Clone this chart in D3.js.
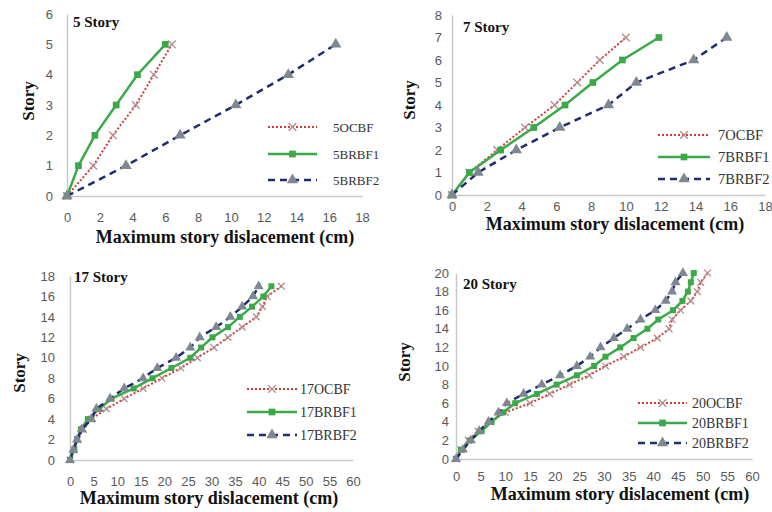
<!DOCTYPE html>
<html>
<head>
<meta charset="utf-8">
<script src="https://cdn.jsdelivr.net/npm/d3@7"></script>
<style>
  body { margin: 0; background: #fff; }
  .tick text { font-family: "Liberation Sans", Arial, sans-serif; font-size: 13px; fill: #595959; }
</style>
</head>
<body>
<div id="chart"></div>
<script>
// ---- data (story levels vs max displacement, cm) ----
const stories5 = [0, 1, 2, 3, 4, 5];
const ocbf5 = [0, 1.6, 2.8, 4.2, 5.3, 6.4];
const brbf1_5 = [0, 0.7, 1.7, 3.0, 4.3, 6.0];
const brbf2_5 = [0, 3.6, 6.9, 10.3, 13.5, 16.4];

const stories7 = [0, 1, 2, 3, 4, 5, 6, 7];
const ocbf7 = [0, 1.0, 2.6, 4.2, 5.9, 7.2, 8.5, 10.0];
const brbf1_7 = [0, 1.0, 2.8, 4.7, 6.5, 8.1, 9.8, 11.9];
const brbf2_7 = [0, 1.5, 3.7, 6.2, 9.0, 10.6, 13.9, 15.8];

const stories17 = [0, 1, 2, 3, 4, 5, 6, 7, 8, 9, 10, 11, 12, 13, 14, 15, 16, 17];
const ocbf17 = [0, 0.8, 1.6, 2.8, 4.5, 7.7, 11.5, 15.5, 19.5, 23.5, 27, 30.5, 33.5, 36.5, 39.5, 40.8, 41.8, 44.8];
const brbf1_17 = [0, 0.9, 1.5, 2.3, 3.8, 6.2, 8.8, 13.5, 17.5, 21.5, 25.5, 27.8, 30.2, 33.5, 36, 38.6, 41, 42.7];
const brbf2_17 = [0, 0.7, 1.5, 2.5, 4.5, 5.6, 8.5, 11.5, 15.5, 18.5, 22.5, 25.5, 27.5, 31, 34, 36.5, 38.8, 40];

const stories20 = [0, 1, 2, 3, 4, 5, 6, 7, 8, 9, 10, 11, 12, 13, 14, 15, 16, 17, 18, 19, 20];
const ocbf20 = [0, 1, 2.5, 4.5, 7, 10, 15, 19, 23, 27, 30.3, 34, 37.4, 40.8, 43.2, 43.8, 45.5, 47.6, 48.9, 49.6, 51];
const brbf1_20 = [0, 1, 2.8, 5.2, 7.2, 9.5, 12, 16.4, 20.4, 24.5, 28, 30.3, 33.3, 36, 38.8, 41, 44, 45.9, 47, 47.6, 48.2];
const brbf2_20 = [0, 1.4, 3, 4.7, 6.6, 8.6, 10.3, 13.7, 17.4, 21.1, 24.5, 27.2, 29.3, 32, 34.7, 37.4, 40.4, 42.5, 43.8, 44.5, 46];

// tick labels
const xTicks18 = [0, 2, 4, 6, 8, 10, 12, 14, 16, 18];
const xTicks60 = [0, 5, 10, 15, 20, 25, 30, 35, 40, 45, 50, 55, 60];
const yTicks6 = [0, 1, 2, 3, 4, 5, 6];
const yTicks8 = [0, 1, 2, 3, 4, 5, 6, 7, 8];
const yTicks18 = [0, 2, 4, 6, 8, 10, 12, 14, 16, 18];
const yTicks20 = [0, 2, 4, 6, 8, 10, 12, 14, 16, 18, 20];

const width = 772;
const height = 512;

const svg = d3
  .select("#chart")
  .append("svg")
  .attr("width", width)
  .attr("height", height)
  .attr("viewBox", [0, 0, width, height]);

// series styles (OCBF dotted red with x, BRBF1 solid green squares, BRBF2 dashed navy triangles)
const styles = [
  { name: "OCBF", stroke: "#d23b3b", dash: "2,2", width: 2, symbol: d3.symbolTimes, size: 40, fill: "none", mstroke: "#b58a8c" },
  { name: "BRBF1", stroke: "#3aa947", dash: null, width: 2.5, symbol: d3.symbolSquare, size: 45, fill: "#3aa947", mstroke: "none" },
  { name: "BRBF2", stroke: "#1f2d6e", dash: "7,5", width: 2.5, symbol: d3.symbolTriangle, size: 55, fill: "#7f8792", mstroke: "none" },
];

function drawPanel(p) {
  const x = d3.scaleLinear().domain(p.xDomain).range(p.xRange);
  const y = d3.scaleLinear().domain(p.yDomain).range(p.yRange);
  const g = svg.append("g");

  // axes (no tick marks, light grey domain lines)
  g.append("g")
    .attr("transform", `translate(0,${p.yRange[0]})`)
    .call(d3.axisBottom(x).tickValues(p.xTicks).tickFormat(d3.format("d")).tickSize(0).tickPadding(p.xPad))
    .call((a) => a.select(".domain").attr("stroke", "#c8c8c8").attr("stroke-width", 1.5));

  g.append("g")
    .attr("transform", `translate(${p.xRange[0]},0)`)
    .call(d3.axisLeft(y).tickValues(p.yTicks).tickFormat(d3.format("d")).tickSize(0).tickPadding(p.yPad))
    .call((a) => a.select(".domain").attr("stroke", "#c8c8c8").attr("stroke-width", 1.5));

  // series
  p.series.forEach((vals, i) => {
    const st = styles[i];
    const pts = vals.map((v, k) => [v, p.stories[k]]);
    const line = d3.line().x((d) => x(d[0])).y((d) => y(d[1]));
    g.append("path")
      .datum(pts)
      .attr("fill", "none")
      .attr("stroke", st.stroke)
      .attr("stroke-width", st.width)
      .attr("stroke-dasharray", st.dash)
      .attr("d", line);
    g.append("g")
      .selectAll("path")
      .data(pts)
      .join("path")
      .attr("transform", (d) => `translate(${x(d[0])},${y(d[1])})`)
      .attr("d", d3.symbol(st.symbol, st.size * p.mscale))
      .attr("fill", st.fill)
      .attr("stroke", st.mstroke)
      .attr("stroke-width", 1.3);
  });

  // legend
  styles.forEach((st, i) => {
    const ly = p.legend.y[i];
    g.append("line")
      .attr("x1", p.legend.x1)
      .attr("x2", p.legend.x2)
      .attr("y1", ly)
      .attr("y2", ly)
      .attr("stroke", st.stroke)
      .attr("stroke-width", st.width)
      .attr("stroke-dasharray", st.dash);
    g.append("path")
      .attr("transform", `translate(${(p.legend.x1 + p.legend.x2) / 2},${ly})`)
      .attr("d", d3.symbol(st.symbol, st.size))
      .attr("fill", st.fill)
      .attr("stroke", st.mstroke)
      .attr("stroke-width", 1.3);
    g.append("text")
      .attr("x", p.legend.tx)
      .attr("y", ly)
      .attr("dy", "0.35em")
      .attr("font-family", "Liberation Serif, Times New Roman, serif")
      .attr("font-size", p.legend.fs)
      .attr("fill", "#333")
      .text(p.prefix + st.name);
  });

  // titles and labels
  g.append("text")
    .attr("x", p.title[0])
    .attr("y", p.title[1])
    .attr("font-family", "Liberation Serif, Times New Roman, serif")
    .attr("font-weight", "bold")
    .attr("font-size", 15)
    .attr("fill", "#111")
    .text(p.prefix + " Story");

  g.append("text")
    .attr("x", p.xlab[0])
    .attr("y", p.xlab[1])
    .attr("text-anchor", "middle")
    .attr("font-family", "Liberation Serif, Times New Roman, serif")
    .attr("font-weight", "bold")
    .attr("font-size", 18)
    .attr("fill", "#111")
    .text("Maximum story dislacement (cm)");

  g.append("text")
    .attr("transform", `translate(${p.ylab[0]},${p.ylab[1]}) rotate(-90)`)
    .attr("text-anchor", "middle")
    .attr("dy", "0.35em")
    .attr("font-family", "Liberation Serif, Times New Roman, serif")
    .attr("font-weight", "bold")
    .attr("font-size", 17)
    .attr("fill", "#111")
    .text("Story");
}

drawPanel({
  prefix: "5",
  stories: stories5,
  series: [ocbf5, brbf1_5, brbf2_5],
  xDomain: [0, 18], xRange: [67, 362], xTicks: xTicks18, xPad: 17,
  yDomain: [0, 6], yRange: [196, 14], yTicks: yTicks6, yPad: 14,
  mscale: 1,
  legend: { x1: 268, x2: 317, tx: 333, fs: 13, y: [127, 154, 180] },
  title: [73, 27], xlab: [225, 243], ylab: [28, 101],
});

drawPanel({
  prefix: "7",
  stories: stories7,
  series: [ocbf7, brbf1_7, brbf2_7],
  xDomain: [0, 18], xRange: [452, 765], xTicks: xTicks18, xPad: 7,
  yDomain: [0, 8], yRange: [195, 15], yTicks: yTicks8, yPad: 10,
  mscale: 1,
  legend: { x1: 658, x2: 710, tx: 718, fs: 14.5, y: [135, 157, 179] },
  title: [463, 32], xlab: [615, 230], ylab: [409, 100],
});

drawPanel({
  prefix: "17",
  stories: stories17,
  series: [ocbf17, brbf1_17, brbf2_17],
  xDomain: [0, 60], xRange: [70, 353], xTicks: xTicks60, xPad: 17,
  yDomain: [0, 18], yRange: [460, 276], yTicks: yTicks18, yPad: 15,
  mscale: 0.8,
  legend: { x1: 247, x2: 297, tx: 300, fs: 14, y: [389, 412, 435] },
  title: [74, 282], xlab: [209, 504], ylab: [19, 373],
});

drawPanel({
  prefix: "20",
  stories: stories20,
  series: [ocbf20, brbf1_20, brbf2_20],
  xDomain: [0, 60], xRange: [456, 752], xTicks: xTicks60, xPad: 13,
  yDomain: [0, 20], yRange: [459, 273], yTicks: yTicks20, yPad: 7,
  mscale: 0.8,
  legend: { x1: 638, x2: 687, tx: 692, fs: 14, y: [403, 423, 443] },
  title: [463, 289], xlab: [620, 500], ylab: [404, 362],
});
</script>
</body>
</html>
